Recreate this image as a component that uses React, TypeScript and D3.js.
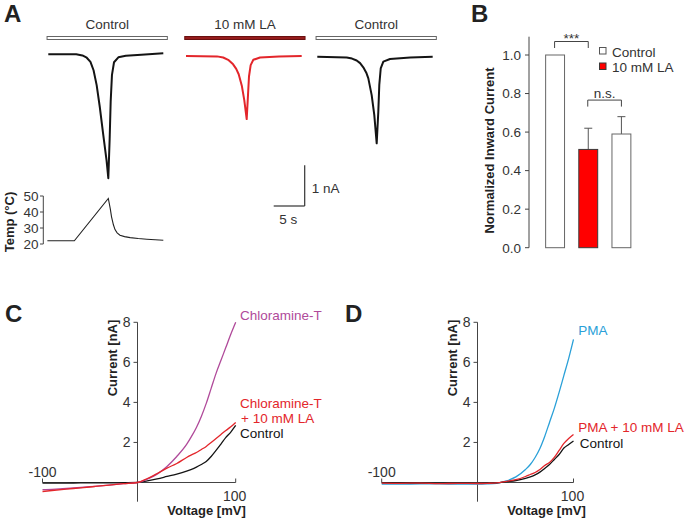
import React from 'react';
import * as d3 from 'd3';

const W = 685;
const H = 520;
const FONT = '"Liberation Sans", Arial, Helvetica, sans-serif';

// ---------- Panel A data ----------
const stimLabels = ['Control', '10 mM LA', 'Control'];

const trace1Time = [0, 4.5, 5.5, 6.2, 6.8, 7.3, 7.8, 8.3, 8.85, 9.4, 9.68, 9.9, 10.06, 10.27, 10.6, 11.3, 12.5, 15, 18.55];
const trace1Current = [0, 0, -0.03, -0.09, -0.2, -0.42, -0.81, -1.38, -2.1, -2.8, -3.26, -2.21, -1.25, -0.54, -0.21, -0.08, -0.04, -0.01, 0.03];

const trace2Time = [0, 5.0, 6.0, 6.8, 7.6, 8.1, 8.5, 9.0, 9.4, 9.79, 10.0, 10.16, 10.43, 10.86, 11.94, 15, 18.66];
const trace2Current = [0, -0.01, -0.04, -0.1, -0.22, -0.34, -0.48, -0.78, -1.16, -1.66, -1.03, -0.54, -0.24, -0.1, -0.04, -0.01, 0];

const trace3Time = [0, 4.74, 5.6, 6.35, 6.9, 7.42, 7.9, 8.23, 8.77, 9.19, 9.58, 9.84, 10.0, 10.23, 10.65, 11.73, 15, 18.61];
const trace3Current = [0, -0.02, -0.05, -0.1, -0.17, -0.28, -0.42, -0.57, -1.01, -1.53, -2.28, -1.45, -0.74, -0.31, -0.13, -0.06, -0.02, 0];

const tempTime = [-0.15, 4.2, 9.68, 10.0, 10.2, 10.5, 10.76, 11.1, 11.56, 12.3, 13.2, 14.5, 15.9, 18.55];
const tempValue = [22, 22, 48.5, 42, 37, 32, 29, 27, 25.5, 24.6, 24, 23.4, 23, 22.3];
const tempTicks = [20, 30, 40, 50];

// ---------- Panel B data ----------
const barCategories = ['Control', '10 mM LA', 'Washout'];
const barValues = [1.0, 0.51, 0.59];
const barErrors = [0, 0.11, 0.09];
const barTicks = [0, 0.2, 0.4, 0.6, 0.8, 1.0];
const legendLabels = ['Control', '10 mM LA'];

// ---------- Panel C data ----------
const ivVoltageC = [-100, -90, -75, -60, -45, -30, -15, 0, 10, 20, 30, 40, 50, 55, 60, 65, 70, 75, 80, 85, 90, 95, 100];
const chloramineT = [-0.36, -0.34, -0.3, -0.25, -0.19, -0.13, -0.06, 0, 0.17, 0.42, 0.8, 1.3, 1.9, 2.3, 2.75, 3.3, 3.95, 4.7, 5.45, 6.1, 6.75, 7.4, 8.0];
const chloramineTLA = [-0.45, -0.4, -0.33, -0.27, -0.2, -0.13, -0.06, 0, 0.2, 0.45, 0.72, 0.95, 1.25, 1.38, 1.5, 1.65, 1.8, 2.0, 2.2, 2.4, 2.6, 2.78, 3.0];
const controlC = [-0.03, -0.03, -0.03, -0.02, -0.02, -0.02, -0.01, 0, 0.08, 0.18, 0.3, 0.42, 0.57, 0.66, 0.77, 0.9, 1.05, 1.3, 1.6, 1.92, 2.25, 2.52, 2.85];
const ivTicksY = [2, 4, 6, 8];

// ---------- Panel D data ----------
const ivVoltageD = [-100, -80, -60, -40, -20, 0, 10, 20, 30, 40, 50, 55, 60, 65, 70, 75, 80, 85, 90, 95, 100];
const pma = [-0.08, -0.08, -0.07, -0.07, -0.08, -0.08, -0.07, -0.04, 0.08, 0.28, 0.65, 0.9, 1.25, 1.7, 2.3, 3.0, 3.7, 4.5, 5.35, 6.2, 7.15];
const pmaLA = [-0.03, -0.04, -0.03, -0.06, -0.04, -0.05, -0.04, -0.02, 0.06, 0.14, 0.3, 0.4, 0.5, 0.65, 0.85, 1.0, 1.25, 1.6, 1.95, 2.2, 2.4];
const controlD = [-0.02, -0.02, -0.03, -0.03, -0.03, -0.04, -0.03, -0.02, 0.04, 0.1, 0.2, 0.28, 0.38, 0.52, 0.7, 0.9, 1.15, 1.4, 1.72, 1.9, 2.07];

const BLACK = '#141414';
const RED = '#e3262b';
const PURPLE = '#b04a9a';
const BLUE = '#2aa0d8';
const AXIS = '#444';
const TXT = '#333';

function PanelLetter({ x, y, t }: { x: number; y: number; t: string }) {
  return (
    <text x={x} y={y} fontSize={24} fontWeight="bold" fill="#222" fontFamily={FONT}>
      {t}
    </text>
  );
}

function PanelA() {
  const pxPerSec = 6.2;
  const pxPerNA = 38;
  const traces = [
    { x0: 48.3, base: 54.3, time: trace1Time, cur: trace1Current, color: BLACK, stimFill: '#fff', stimStroke: '#666' },
    { x0: 186, base: 56, time: trace2Time, cur: trace2Current, color: RED, stimFill: '#951c1c', stimStroke: '#6a1010' },
    { x0: 317.3, base: 56.7, time: trace3Time, cur: trace3Current, color: BLACK, stimFill: '#fff', stimStroke: '#666' },
  ];
  const scales = traces.map((tr) => ({
    x: d3.scaleLinear().domain([0, 1]).range([tr.x0, tr.x0 + pxPerSec]),
    y: d3.scaleLinear().domain([0, -1]).range([tr.base, tr.base + pxPerNA]),
  }));
  const tY = d3.scaleLinear().domain([20, 50]).range([244, 196]);
  const tX = scales[0].x;
  const tempLine = d3
    .line<number>()
    .x((_, i) => tX(tempTime[i]))
    .y((d) => tY(d))(tempValue);

  const sbX = 304.7;
  const sbY = 203.3;
  const oneNA = pxPerNA * 1;
  const fiveS = pxPerSec * 5;

  return (
    <g>
      <PanelLetter x={4} y={22} t="A" />
      {traces.map((tr, k) => {
        const sx = scales[k].x;
        const sy = scales[k].y;
        const line = d3
          .line<number>()
          .x((_, i) => sx(tr.time[i]))
          .y((d) => sy(d))
          .curve(d3.curveLinear)(tr.cur);
        const bx0 = sx(-0.2);
        const bx1 = sx(19.2);
        return (
          <g key={k}>
            <text x={(bx0 + bx1) / 2} y={29} textAnchor="middle" fontSize={13.5} fill={TXT} fontFamily={FONT}>
              {stimLabels[k]}
            </text>
            <rect x={bx0} y={36.5} width={bx1 - bx0} height={3} fill={tr.stimFill} stroke={tr.stimStroke} strokeWidth={1} />
            <path d={line || ''} fill="none" stroke={tr.color} strokeWidth={2} strokeLinejoin="round" />
          </g>
        );
      })}
      <line x1={43.3} x2={43.3} y1={tY(50)} y2={tY(20)} stroke={AXIS} strokeWidth={1} />
      {tempTicks.map((t) => (
        <g key={t}>
          <line x1={40} x2={43.3} y1={tY(t)} y2={tY(t)} stroke={AXIS} strokeWidth={1} />
          <text x={38.5} y={tY(t)} dy="0.36em" textAnchor="end" fontSize={13.5} fill={TXT} fontFamily={FONT}>
            {t}
          </text>
        </g>
      ))}
      <path d={tempLine || ''} fill="none" stroke="#222" strokeWidth={1.1} />
      <text
        transform={`translate(13.5,${(tY(20) + tY(50)) / 2 + 2}) rotate(-90)`}
        textAnchor="middle"
        fontSize={13}
        fontWeight="bold"
        fill="#222"
        fontFamily={FONT}
      >
        Temp (°C)
      </text>
      <line x1={sbX} x2={sbX} y1={sbY - oneNA} y2={sbY + 2.7} stroke="#333" strokeWidth={1.2} />
      <line x1={sbX - fiveS} x2={sbX} y1={sbY + 2.7} y2={sbY + 2.7} stroke="#333" strokeWidth={1.2} />
      <text x={sbX + 7} y={193} fontSize={13.5} fill={TXT} fontFamily={FONT}>
        1 nA
      </text>
      <text x={sbX - fiveS / 2 - 1} y={224} textAnchor="middle" fontSize={13.5} fill={TXT} fontFamily={FONT}>
        5 s
      </text>
    </g>
  );
}

function PanelB() {
  const y = d3.scaleLinear().domain([0, 1]).range([247.7, 55]);
  const x = d3.scaleBand<string>().domain(barCategories).range([539, 637.5]).paddingInner(0.43).paddingOuter(0.2);
  const axX = 529;
  const bw = x.bandwidth();
  const cx = (i: number) => (x(barCategories[i]) as number) + bw / 2;
  const fills = ['#fff', '#ff0000', '#fff'];
  const strokes = ['#666', '#3a3a3a', '#666'];
  const sig = [
    { a: 0, b: 1, level: 1.07, label: '***' },
    { a: 1, b: 2, level: 0.766, label: 'n.s.' },
  ];
  return (
    <g>
      <PanelLetter x={471} y={22} t="B" />
      <line x1={axX} x2={axX} y1={y(0)} y2={y(1.095)} stroke={AXIS} strokeWidth={1} />
      {barTicks.map((t) => (
        <g key={t}>
          <line x1={axX - 4} x2={axX} y1={y(t)} y2={y(t)} stroke={AXIS} strokeWidth={1} />
          <text x={521} y={y(t)} dy="0.36em" textAnchor="end" fontSize={13.5} fill={TXT} fontFamily={FONT}>
            {d3.format('.1f')(t)}
          </text>
        </g>
      ))}
      {barValues.map((v, i) => (
        <g key={i}>
          {barErrors[i] > 0 && (
            <g stroke="#555" strokeWidth={1}>
              <line x1={cx(i)} x2={cx(i)} y1={y(v)} y2={y(v + barErrors[i])} />
              <line x1={cx(i) - 4} x2={cx(i) + 4} y1={y(v + barErrors[i])} y2={y(v + barErrors[i])} />
            </g>
          )}
          <rect
            x={x(barCategories[i])}
            y={y(v)}
            width={bw}
            height={y(0) - y(v)}
            fill={fills[i]}
            stroke={strokes[i]}
            strokeWidth={1}
          />
        </g>
      ))}
      {sig.map((s, k) => {
        const yy = y(s.level);
        const x1 = cx(s.a) - 0.5;
        const x2 = cx(s.b);
        return (
          <g key={k}>
            <path d={`M${x1},${yy + 6.5}V${yy}H${x2}V${yy + 6.5}`} fill="none" stroke="#444" strokeWidth={1} />
            <text
              x={(x1 + x2) / 2}
              y={s.label === '***' ? yy + 1 : yy - 2}
              textAnchor="middle"
              fontSize={13.5}
              fill={TXT}
              fontFamily={FONT}
            >
              {s.label}
            </text>
          </g>
        );
      })}
      {legendLabels.map((l, i) => (
        <g key={l}>
          <rect x={599.5} y={47.5 + i * 15.5} width={6.5} height={6.5} fill={i === 0 ? '#fff' : '#ff0000'} stroke={i === 0 ? '#555' : '#3a3a3a'} strokeWidth={1} />
          <text x={612} y={56.5 + i * 15.3} fontSize={13.5} fill={TXT} fontFamily={FONT}>
            {l}
          </text>
        </g>
      ))}
      <text
        transform={`translate(494,150.5) rotate(-90)`}
        textAnchor="middle"
        fontSize={13}
        fontWeight="bold"
        fill="#222"
        fontFamily={FONT}
      >
        Normalized Inward Current
      </text>
    </g>
  );
}

type Series = { values: number[]; color: string };
type Label = { text: string; color: string; dx: number; y: number };

function IVPanel({
  letter,
  letterX,
  xRange,
  voltages,
  series,
  labels,
}: {
  letter: string;
  letterX: number;
  xRange: [number, number, number];
  voltages: number[];
  series: Series[];
  labels: Label[];
}) {
  const x = d3.scaleLinear().domain([-100, 0, 100]).range(xRange);
  const y = d3.scaleLinear().domain([0, 8]).range([482.5, 322.3]);
  const xZ = x(0);
  const xL = x(-100);
  const xR = x(100);
  return (
    <g>
      <PanelLetter x={letterX} y={322} t={letter} />
      <line x1={xZ} x2={xZ} y1={y(8)} y2={501.7} stroke={AXIS} strokeWidth={1} />
      {ivTicksY.map((t) => (
        <g key={t}>
          <line x1={xZ - 4} x2={xZ} y1={y(t)} y2={y(t)} stroke={AXIS} strokeWidth={1} />
          <text x={xZ - 7} y={y(t)} dy="0.36em" textAnchor="end" fontSize={14} fill={TXT} fontFamily={FONT}>
            {t}
          </text>
        </g>
      ))}
      <line x1={xL} x2={xR} y1={y(0)} y2={y(0)} stroke={AXIS} strokeWidth={1.2} />
      {[-100, 100].map((v) => (
        <line key={v} x1={x(v)} x2={x(v)} y1={y(0) - 4} y2={y(0)} stroke={AXIS} strokeWidth={1} />
      ))}
      <text x={xL} y={476.5} textAnchor="middle" fontSize={14} fill={TXT} fontFamily={FONT}>
        -100
      </text>
      <text x={xR - 1} y={501} textAnchor="middle" fontSize={14} fill={TXT} fontFamily={FONT}>
        100
      </text>
      <text x={xZ + 69} y={515} textAnchor="middle" fontSize={13} fontWeight="bold" fill="#222" fontFamily={FONT}>
        Voltage [mV]
      </text>
      <text
        transform={`translate(${xZ - 20.5},358) rotate(-90)`}
        textAnchor="middle"
        fontSize={13}
        fontWeight="bold"
        fill="#222"
        fontFamily={FONT}
      >
        Current [nA]
      </text>
      {series.map((s, k) => {
        const d = d3
          .line<number>()
          .x((_, i) => x(voltages[i]))
          .y((v) => y(v))
          .curve(d3.curveMonotoneX)(s.values);
        return <path key={k} d={d || ''} fill="none" stroke={s.color} strokeWidth={1.3} />;
      })}
      {labels.map((l, k) => (
        <text key={k} x={xR + l.dx} y={l.y} fontSize={13.5} fill={l.color} fontFamily={FONT}>
          {l.text}
        </text>
      ))}
    </g>
  );
}

export default function App() {
  return (
    <svg
      width={W}
      height={H}
      viewBox={`0 0 ${W} ${H}`}
      style={{ position: 'absolute', left: 0, top: 0, background: '#fff' }}
      fontFamily={FONT}
    >
      <rect width={W} height={H} fill="#fff" />
      <PanelA />
      <PanelB />
      <IVPanel
        letter="C"
        letterX={5}
        xRange={[42.5, 137.5, 235.7]}
        voltages={ivVoltageC}
        series={[
          { values: controlC, color: BLACK },
          { values: chloramineT, color: PURPLE },
          { values: chloramineTLA, color: RED },
        ]}
        labels={[
          { text: 'Chloramine-T', color: PURPLE, dx: 4.3, y: 320 },
          { text: 'Chloramine-T', color: RED, dx: 4.3, y: 408 },
          { text: '+ 10 mM LA', color: RED, dx: 5.3, y: 423 },
          { text: 'Control', color: BLACK, dx: 4.3, y: 437.5 },
        ]}
      />
      <IVPanel
        letter="D"
        letterX={345}
        xRange={[381.7, 477.5, 573.5]}
        voltages={ivVoltageD}
        series={[
          { values: pma, color: BLUE },
          { values: controlD, color: BLACK },
          { values: pmaLA, color: RED },
        ]}
        labels={[
          { text: 'PMA', color: BLUE, dx: 4.8, y: 335 },
          { text: 'PMA + 10 mM LA', color: RED, dx: 4.8, y: 431.5 },
          { text: 'Control', color: BLACK, dx: 6.3, y: 448 },
        ]}
      />
    </svg>
  );
}
